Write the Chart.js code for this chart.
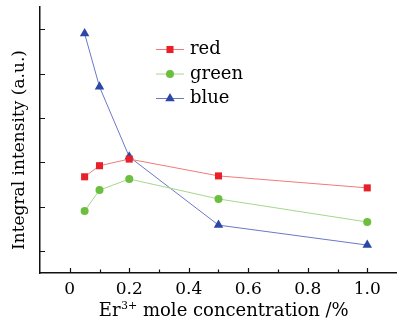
<!DOCTYPE html>
<html>
<head>
<meta charset="utf-8">
<script src="https://cdn.jsdelivr.net/npm/chart.js@4.4.1/dist/chart.umd.min.js"></script>
<style>
  body { margin: 0; background: #fff; }
  #wrap { width: 397px; height: 325px; }
</style>
</head>
<body>
<div id="wrap"><canvas id="chart"></canvas></div>
<script>
// values
const concentrations = [0.05, 0.1, 0.2, 0.5, 1.0];
const redValues = [2.67, 2.92, 3.07, 2.69, 2.42];
const greenValues = [1.90, 2.37, 2.62, 2.17, 1.65];
const blueValues = [5.90, 4.70, 3.12, 1.58, 1.13];
const xTickValues = [0, 0.2, 0.4, 0.6, 0.8, 1.0];
const xMinorValues = [0.1, 0.3, 0.5, 0.7, 0.9];
const yTickValues = [1, 2, 3, 4, 5, 6];
const seriesNames = ['red', 'green', 'blue'];
const yTitle = 'Integral intensity (a.u.)';
const xTitle = ['Er', '3+', ' mole concentration /%'];

const FONT = 'DejaVu Serif';

function toPoints(values) {
  return concentrations.map((x, i) => ({ x: x, y: values[i] }));
}

// ticks drawn inward from the axis lines
const inwardTicks = {
  id: 'inwardTicks',
  afterDraw(chart) {
    const { ctx, chartArea, scales } = chart;
    ctx.save();
    ctx.strokeStyle = '#111';
    ctx.lineWidth = 1.2;
    ctx.beginPath();
    xTickValues.forEach(v => {
      const px = Math.round(scales.x.getPixelForValue(v)) + 0.5;
      ctx.moveTo(px, chartArea.bottom);
      ctx.lineTo(px, chartArea.bottom - 5);
    });
    xMinorValues.forEach(v => {
      const px = Math.round(scales.x.getPixelForValue(v)) + 0.5;
      ctx.moveTo(px, chartArea.bottom);
      ctx.lineTo(px, chartArea.bottom - 3.5);
    });
    yTickValues.forEach(v => {
      const py = Math.round(scales.y.getPixelForValue(v)) + 0.5;
      ctx.moveTo(chartArea.left, py);
      ctx.lineTo(chartArea.left + 5, py);
    });
    ctx.stroke();
    ctx.restore();
  }
};

// axis titles (x title has a real superscript)
const axisTitles = {
  id: 'axisTitles',
  afterDraw(chart) {
    const { ctx, chartArea } = chart;
    ctx.save();
    ctx.fillStyle = '#000';
    ctx.textBaseline = 'alphabetic';

    // y title, rotated
    ctx.save();
    ctx.translate(chartArea.left - 16, 150);
    ctx.rotate(-Math.PI / 2);
    ctx.font = '17px "' + FONT + '"';
    ctx.textAlign = 'center';
    ctx.fillText(yTitle, 0, 0);
    ctx.restore();

    // x title
    const big = '18px "' + FONT + '"';
    const small = '11px "' + FONT + '"';
    ctx.font = big;
    const w0 = ctx.measureText(xTitle[0]).width;
    const w2 = ctx.measureText(xTitle[2]).width;
    ctx.font = small;
    const w1 = ctx.measureText(xTitle[1]).width;
    let x = 223.5 - (w0 + w1 + w2) / 2;
    const base = chartArea.bottom + 43;
    ctx.textAlign = 'left';
    ctx.font = big;
    ctx.fillText(xTitle[0], x, base);
    x += w0;
    ctx.font = small;
    ctx.fillText(xTitle[1], x + 0.5, base - 7);
    x += w1 + 0.5;
    ctx.font = big;
    ctx.fillText(xTitle[2], x, base);
    ctx.restore();
  }
};

// legend with line + marker, like the original
const lineLegend = {
  id: 'lineLegend',
  afterDraw(chart) {
    const { ctx, chartArea } = chart;
    const x0 = chartArea.left + 116;
    const y0 = chartArea.top + 42.5;
    ctx.save();
    chart.data.datasets.forEach((ds, i) => {
      const y = y0 + i * 24.5;
      ctx.strokeStyle = ds.borderColor;
      ctx.lineWidth = 1;
      ctx.beginPath();
      ctx.moveTo(x0, y);
      ctx.lineTo(x0 + 28, y);
      ctx.stroke();
      ctx.fillStyle = ds.pointBackgroundColor;
      ctx.strokeStyle = ds.pointBackgroundColor;
      Chart.helpers.drawPoint(ctx, {
        pointStyle: ds.pointStyle,
        radius: ds.pointRadius,
        borderWidth: 0,
        rotation: 0
      }, x0 + 14, y);
      ctx.fillStyle = '#000';
      ctx.font = '18px "' + FONT + '"';
      ctx.textBaseline = 'middle';
      ctx.fillText(ds.label, x0 + 34, y);
    });
    ctx.restore();
  }
};

const ctx = document.getElementById('chart').getContext('2d');
new Chart(ctx, {
  type: 'line',
  data: {
    datasets: [
      {
        label: seriesNames[0],
        data: toPoints(redValues),
        borderColor: '#f07a78',
        borderWidth: 1,
        pointStyle: 'rect',
        pointRadius: 5,
        pointBorderWidth: 0,
        pointBackgroundColor: '#e8202a'
      },
      {
        label: seriesNames[1],
        data: toPoints(greenValues),
        borderColor: '#a6d68e',
        borderWidth: 1,
        pointStyle: 'circle',
        pointRadius: 4,
        pointBorderWidth: 0,
        pointBackgroundColor: '#6cbf3e'
      },
      {
        label: seriesNames[2],
        data: toPoints(blueValues),
        borderColor: '#6a78c8',
        borderWidth: 1,
        pointStyle: 'triangle',
        pointRadius: 5.5,
        pointBorderWidth: 0,
        pointBackgroundColor: '#2c47a6'
      }
    ]
  },
  options: {
    responsive: true,
    maintainAspectRatio: false,
    animation: false,
    layout: { autoPadding: false, padding: { top: 7, right: 0, left: 0, bottom: 0 } },
    plugins: {
      legend: { display: false },
      tooltip: { enabled: false }
    },
    scales: {
      x: {
        type: 'linear',
        min: -0.1,
        max: 1.1,
        afterBuildTicks: scale => {
          scale.ticks = xTickValues.map(v => ({ value: v }));
        },
        afterFit: scale => { scale.height = 52; },
        ticks: {
          color: '#000',
          font: { family: FONT, size: 17 },
          padding: 6,
          maxRotation: 0,
          callback: v => (v === 0 ? '0' : v.toFixed(1))
        },
        grid: { display: true, drawOnChartArea: false, drawTicks: false },
        border: { display: true, color: '#111', width: 1.5 },
        title: { display: false }
      },
      y: {
        type: 'linear',
        min: 0.5,
        max: 6.5,
        afterBuildTicks: scale => {
          scale.ticks = yTickValues.map(v => ({ value: v }));
        },
        afterFit: scale => { scale.width = 40; },
        ticks: { display: false },
        grid: { display: true, drawOnChartArea: false, drawTicks: false },
        border: { display: true, color: '#111', width: 1.5 },
        title: { display: false }
      }
    }
  },
  plugins: [inwardTicks, axisTitles, lineLegend]
});
</script>
</body>
</html>
